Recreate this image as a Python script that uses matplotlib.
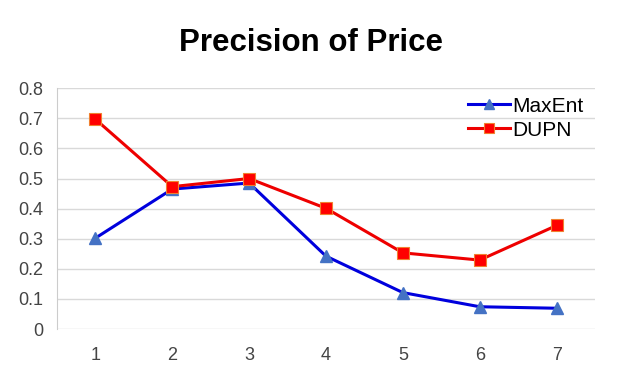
import matplotlib
matplotlib.use("Agg")
import matplotlib.pyplot as plt

plt.rcParams['font.family'] = ['Liberation Sans', 'DejaVu Sans']

x = [1, 2, 3, 4, 5, 6, 7]
maxent = [0.302, 0.465, 0.485, 0.242, 0.121, 0.074, 0.069]
dupn = [0.697, 0.473, 0.500, 0.401, 0.253, 0.229, 0.344]
yticks = [0, 0.1, 0.2, 0.3, 0.4, 0.5, 0.6, 0.7, 0.8]
ytick_labels = ['0', '0.1', '0.2', '0.3', '0.4', '0.5', '0.6', '0.7', '0.8']

fig = plt.figure(figsize=(6.22, 3.78), dpi=100)
ax = fig.add_axes([0.0916, 0.1296, 0.865, 0.637])

ax.plot(x, maxent, color='#0000dd', lw=2.2, marker='^', markersize=8,
        markerfacecolor='#4472c4', markeredgecolor='#4472c4', label='MaxEnt', zorder=3)
ax.plot(x, dupn, color='#ee0000', lw=2.2, marker='s', markersize=8,
        markerfacecolor='#ff0000', markeredgecolor='#f08030', markeredgewidth=0.8,
        label='DUPN', zorder=4)

ax.set_xlim(0.5, 7.5)
ax.set_ylim(0, 0.8)
ax.set_xticks(x)
ax.set_yticks(yticks)
ax.set_yticklabels(ytick_labels)
ax.tick_params(axis='both', length=0, labelsize=13, labelcolor='#444444')
ax.tick_params(axis='x', pad=13)
ax.tick_params(axis='y', pad=10)
ax.grid(axis='y', color='#d9d9d9', lw=1)
ax.set_axisbelow(True)
for s in ['top', 'right', 'bottom']:
    ax.spines[s].set_visible(False)
ax.spines['left'].set_color('#cccccc')

ax.legend(loc='upper right', frameon=False, fontsize=15, handlelength=2.0,
          handletextpad=0.15, borderaxespad=0.0, labelspacing=0.25,
          markerscale=0.85, bbox_to_anchor=(0.995, 1.0))

fig.suptitle('Precision of Price', fontsize=22.5, fontweight='bold', y=0.925)

fig.savefig('out.png', dpi=100)
